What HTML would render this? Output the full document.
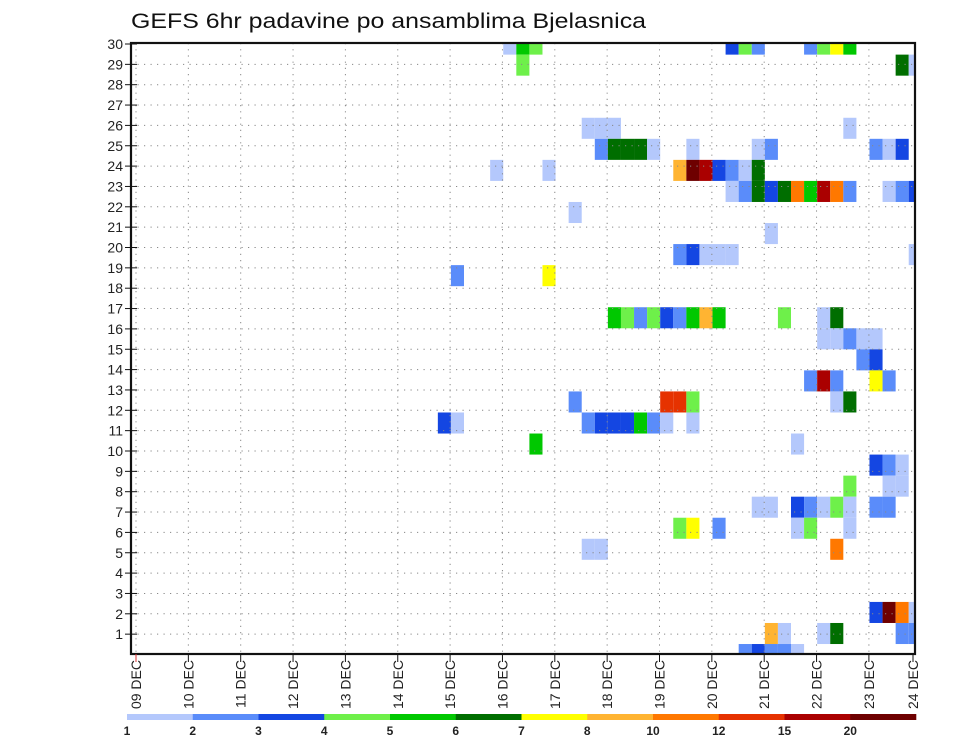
<!DOCTYPE html>
<html><head><meta charset="utf-8"><style>
html,body{margin:0;padding:0;background:#fff;}
svg{display:block;font-family:"Liberation Sans",sans-serif;}
</style></head><body>
<svg id="chart" width="960" height="742" viewBox="0 0 960 742" xmlns="http://www.w3.org/2000/svg">
<rect x="0" y="0" width="960" height="742" fill="#fff"/>
<text x="131" y="28" font-size="21" fill="#111" textLength="515" lengthAdjust="spacingAndGlyphs">GEFS 6hr padavine po ansamblima Bjelasnica</text>
<defs><clipPath id="plotclip"><rect x="131" y="43" width="784" height="611"/></clipPath></defs>
<g id="cells" clip-path="url(#plotclip)"></g>
<g id="grid"></g>
<g id="axes"></g>
<g id="legend"></g>
</svg>
<script>
const dayLabels = ["09 DEC","10 DEC","11 DEC","12 DEC","13 DEC","14 DEC","15 DEC","16 DEC","17 DEC","18 DEC","19 DEC","20 DEC","21 DEC","22 DEC","23 DEC","24 DEC"];
const memberTicks = [1,2,3,4,5,6,7,8,9,10,11,12,13,14,15,16,17,18,19,20,21,22,23,24,25,26,27,28,29,30];
const legendThresholds = [1,2,3,4,5,6,7,8,10,12,15,20];
const legendColors = ["#b4c8fc","#5a8cfa","#1446e2","#6ef04a","#00c800","#006e00","#ffff00","#ffb432","#ff7800","#e63200","#aa0000","#6e0000"];
const cellMember = [
29,29,29,29,29,29,29,29,29,29,
28,28,28,
25,25,25,25,
24,24,24,24,24,24,24,24,24,24,24,
23,23,23,23,23,23,23,23,23,
22,22,22,22,22,22,22,22,22,22,22,22,22,
21,20,
19,19,19,19,19,19,
18,18,
16,16,16,16,16,16,16,16,16,16,16,16,
15,15,15,15,15,
14,14,
13,13,13,13,13,
12,12,12,12,12,12,
11,11,11,11,11,11,11,11,11,11,
10,10,
9,9,9,
8,8,8,
7,7,7,7,7,7,7,7,7,
6,6,6,6,6,6,
5,5,5,
2,2,2,2,
1,1,1,1,1,1,
0,0,0,0,0];
const cellStep = [
28,29,30,45,46,47,51,52,53,54,
29,58,59,
34,35,36,54,
35,36,37,38,39,42,47,48,56,57,58,
27,31,41,42,43,44,45,46,47,
45,46,47,48,49,50,51,52,53,54,57,58,59,
33,48,
41,42,43,44,45,59,
24,31,
36,37,38,39,40,41,42,43,44,49,52,53,
52,53,54,55,56,
55,56,
51,52,53,56,57,
33,40,41,42,53,54,
23,24,34,35,36,37,38,39,40,42,
30,50,
56,57,58,
54,57,58,
47,48,50,51,52,53,54,56,57,
41,42,44,50,51,54,
34,35,53,
56,57,58,59,
48,49,52,53,58,59,
46,47,48,49,50];
const cellValue = [
1,5,4,3,4,2,2,4,7,5,
4,6,1,
1,1,1,1,
2,6,6,6,1,1,1,2,2,1,3,
1,1,8,20,15,3,2,1,6,
1,2,6,3,6,10,5,15,10,2,1,2,3,
1,1,
2,3,1,1,1,1,
2,7,
5,4,2,4,3,2,5,8,5,4,1,6,
1,1,2,1,1,
2,3,
2,15,2,7,2,
2,12,12,4,1,6,
3,1,2,3,3,3,5,2,1,1,
5,1,
3,2,1,
4,1,1,
1,1,3,2,1,4,1,2,2,
4,7,2,1,4,1,
1,1,10,
3,20,10,1,
8,1,1,6,2,2,
2,3,2,2,1];

const NS = "http://www.w3.org/2000/svg";
const X0 = 131, X1 = 915, Y0 = 43, Y1 = 654;
function xDay(d){ return 136 + 52.35 * d; }
function xStep(k){ return 137 + 13.08 * k; }
const stepW = 13.08;
function yMember(m){ return 633.5 - (m - 1) * 21.05; }
const cellH = 21.05;
function yTick(v){ return 654.5 - v * 20.35; }
function colorFor(v){
  let c = legendColors[0];
  for (let i = 0; i < legendThresholds.length; i++) if (v >= legendThresholds[i]) c = legendColors[i];
  return c;
}
function mk(tag, attrs, parent){
  const e = document.createElementNS(NS, tag);
  for (const k in attrs) e.setAttribute(k, attrs[k]);
  parent.appendChild(e);
  return e;
}
const cells = document.getElementById('cells');
for (let i = 0; i < cellValue.length; i++) {
  const r = mk('rect', {x: xStep(cellStep[i]).toFixed(2), y: (yMember(cellMember[i]) - cellH/2).toFixed(2), width: stepW, height: cellH, fill: colorFor(cellValue[i])}, cells);
  
  
}
const grid = document.getElementById('grid');
for (let d = 0; d < dayLabels.length; d++) {
  const x = xDay(d);
  if (x > X1 - 1) continue;
  const l = mk('line', {x1: x, y1: Y0, x2: x, y2: Y1, stroke: '#888', 'stroke-width': 1, 'stroke-dasharray': '1.2,5'}, grid);
  
  
}
for (let i = 0; i < memberTicks.length - 1; i++) {
  const y = yTick(memberTicks[i]);
  const l = mk('line', {x1: X0, y1: y, x2: X1, y2: y, stroke: '#888', 'stroke-width': 1, 'stroke-dasharray': '1.2,5.3'}, grid);
  
  
}
const axes = document.getElementById('axes');
const frame = mk('rect', {x: X0, y: Y0, width: X1 - X0, height: Y1 - Y0, fill: 'none', stroke: '#111', 'stroke-width': 2.2}, axes);


for (let i = 0; i < memberTicks.length; i++) {
  const y = yTick(memberTicks[i]);
  const t = mk('line', {x1: 125, y1: y, x2: 137, y2: y, stroke: '#111', 'stroke-width': 1}, axes);
  
  
  const lab = mk('text', {x: 123, y: y + 5, 'font-size': 14, 'text-anchor': 'end', fill: '#222'}, axes);
  lab.textContent = memberTicks[i];
  
  
}
for (let d = 0; d < dayLabels.length; d++) {
  const x = Math.min(xDay(d), 913);
  const t = mk('line', {x1: x, y1: Y1, x2: x, y2: 662, stroke: d === 0 ? '#d33' : '#111', 'stroke-width': 1}, axes);
  
  
  const lab = mk('text', {x: 0, y: 0, 'font-size': 14, 'text-anchor': 'end', fill: '#222', transform: 'translate(' + (x + 5) + ',660) rotate(-90)'}, axes);
  lab.textContent = dayLabels[d];
  
  
}
const legend = document.getElementById('legend');
const segW = (916 - 127) / legendColors.length;
for (let i = 0; i < legendColors.length; i++) {
  const r = mk('rect', {x: 127 + i * segW, y: 714, width: segW + 0.3, height: 6, fill: legendColors[i]}, legend);
  
  
  const lab = mk('text', {x: 127 + i * segW, y: 735, 'font-size': 12, 'font-weight': 'bold', 'text-anchor': 'middle', fill: '#222'}, legend);
  lab.textContent = legendThresholds[i];
  
  
}
</script>
</body></html>
